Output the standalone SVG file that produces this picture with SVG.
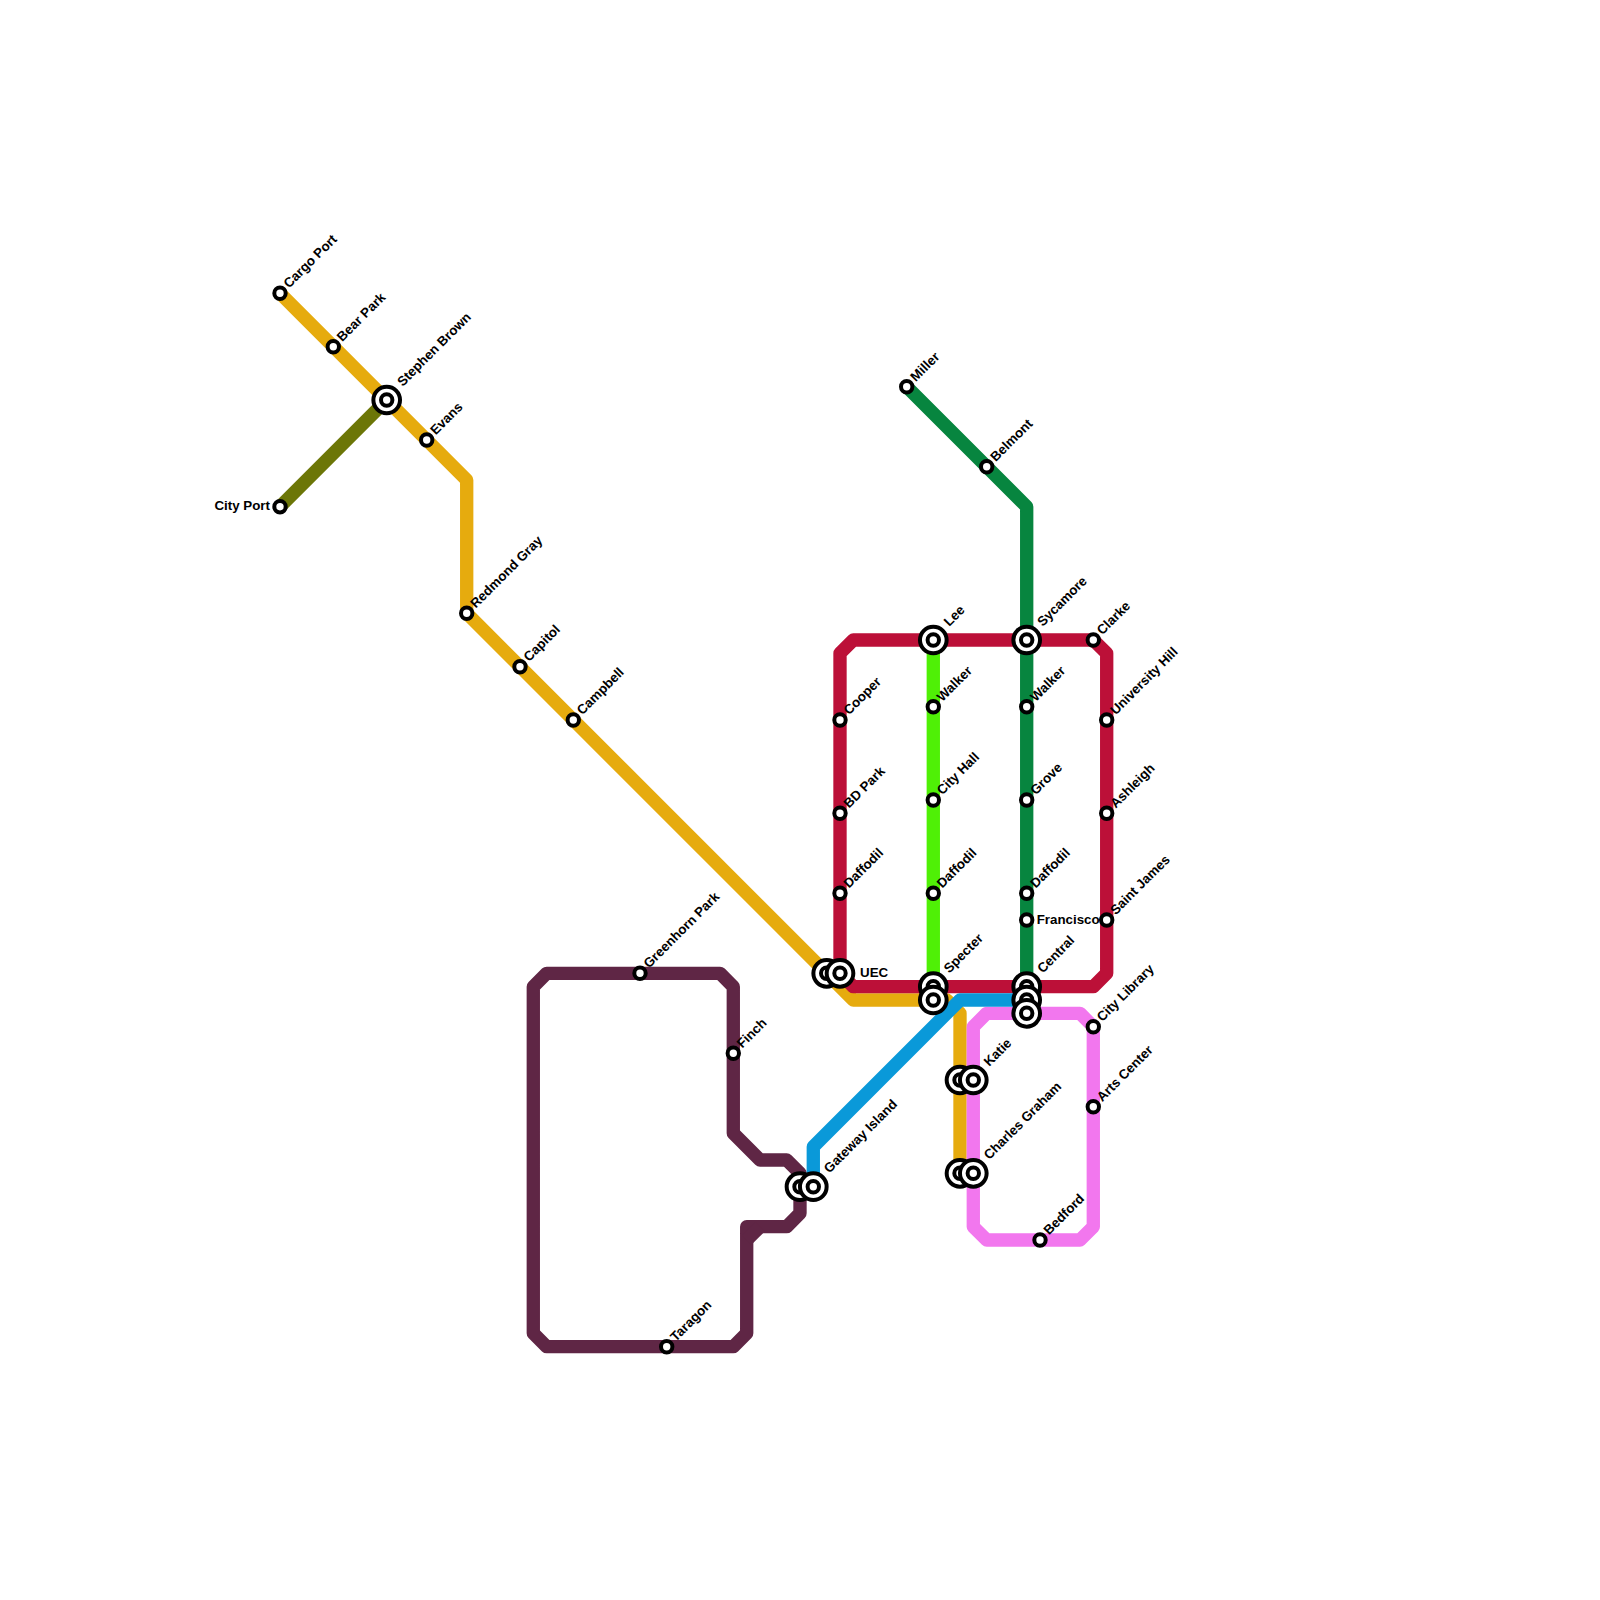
<svg xmlns="http://www.w3.org/2000/svg" width="1600" height="1600" viewBox="0 0 1600 1600">
<style>
.l{fill:none;stroke-width:13.33;stroke-linejoin:round;stroke-linecap:butt}
.s{fill:#fff;stroke:#000;stroke-width:4}
.t{font-family:"Liberation Sans",Arial,sans-serif;font-weight:700;font-size:13.33px;fill:#000}
</style>
<defs>
<g id="sm"><circle class="s" r="5.7"/></g>
<g id="lg"><circle class="s" r="13.33"/><circle class="s" r="5.7"/></g>
</defs>
<rect width="1600" height="1600" fill="#fff"/>
<g id="connectors">
<path class="l" stroke="#6c7607" d="M280 506.7L386.7 400"/>
<path class="l" stroke="#e6ab0e" d="M280 293.3L466.7 480V613.3L853.3 1000H946.7L960 1013.3V1173.3"/>
<path class="l" stroke="#5f2645" d="M533.3 986.7L546.7 973.3H720L733.3 986.7V1133.3L760 1160H786.7L800 1173.3V1213.3L786.7 1226.7H746.7V1333.3L733.3 1346.7H546.7L533.3 1333.3Z"/>
<path class="l" stroke="#5f2645" d="M760 1226.7L746.7 1240"/>
<path class="l" stroke="#07853f" d="M906.7 386.7L1026.7 506.7V986.7"/>
<path class="l" stroke="#4ff006" d="M933.3 640V986.7"/>
<path class="l" stroke="#f277ee" d="M973.3 1026.7L986.7 1013.3H1080L1093.3 1026.7V1226.7L1080 1240H986.7L973.3 1226.7Z"/>
<path class="l" stroke="#bc1038" d="M840 973.3V653.3L853.3 640H1093.3L1106.7 653.3V973.3L1093.3 986.7H853.3Z"/>
<path class="l" stroke="#0a99d9" d="M813.3 1186.7V1146.7L960 1000H1026.7"/>
</g>
<g id="n-cargo-port" transform="translate(280 293.3)"><use href="#sm"/><text class="t" transform="translate(9 -4.5) rotate(-45)">Cargo Port</text></g>
<g id="n-bear-park" transform="translate(333.3 346.7)"><use href="#sm"/><text class="t" transform="translate(9 -4.5) rotate(-45)">Bear Park</text></g>
<g id="n-stephen-brown" transform="translate(386.7 400)"><use href="#lg"/><text class="t" transform="translate(16 -13) rotate(-45)">Stephen Brown</text></g>
<g id="n-evans" transform="translate(426.7 440)"><use href="#sm"/><text class="t" transform="translate(9 -4.5) rotate(-45)">Evans</text></g>
<g id="n-city-port" transform="translate(280 506.7)"><use href="#sm"/><text class="t" text-anchor="end" x="-10" y="3.5">City Port</text></g>
<g id="n-redmond-gray" transform="translate(466.7 613.3)"><use href="#sm"/><text class="t" transform="translate(9 -4.5) rotate(-45)">Redmond Gray</text></g>
<g id="n-capitol" transform="translate(520 666.7)"><use href="#sm"/><text class="t" transform="translate(9 -4.5) rotate(-45)">Capitol</text></g>
<g id="n-campbell" transform="translate(573.3 720)"><use href="#sm"/><text class="t" transform="translate(9 -4.5) rotate(-45)">Campbell</text></g>
<g id="n-greenhorn-park" transform="translate(640 973.3)"><use href="#sm"/><text class="t" transform="translate(9 -4.5) rotate(-45)">Greenhorn Park</text></g>
<g id="n-finch" transform="translate(733.3 1053.3)"><use href="#sm"/><text class="t" transform="translate(9 -4.5) rotate(-45)">Finch</text></g>
<g id="n-taragon" transform="translate(666.7 1346.7)"><use href="#sm"/><text class="t" transform="translate(9 -4.5) rotate(-45)">Taragon</text></g>
<g id="n-gateway-a" transform="translate(800 1186.7)"><use href="#lg"/></g>
<g id="n-gateway-island" transform="translate(813.3 1186.7)"><use href="#lg"/><text class="t" transform="translate(16 -13) rotate(-45)">Gateway Island</text></g>
<g id="n-uec-a" transform="translate(826.7 973.3)"><use href="#lg"/></g>
<g id="n-uec" transform="translate(840 973.3)"><use href="#lg"/><text class="t" x="20" y="3.5">UEC</text></g>
<g id="n-cooper" transform="translate(840 720)"><use href="#sm"/><text class="t" transform="translate(9 -4.5) rotate(-45)">Cooper</text></g>
<g id="n-bd-park" transform="translate(840 813.3)"><use href="#sm"/><text class="t" transform="translate(9 -4.5) rotate(-45)">BD Park</text></g>
<g id="n-daffodil-1" transform="translate(840 893.3)"><use href="#sm"/><text class="t" transform="translate(9 -4.5) rotate(-45)">Daffodil</text></g>
<g id="n-miller" transform="translate(906.7 386.7)"><use href="#sm"/><text class="t" transform="translate(9 -4.5) rotate(-45)">Miller</text></g>
<g id="n-belmont" transform="translate(986.7 466.7)"><use href="#sm"/><text class="t" transform="translate(9 -4.5) rotate(-45)">Belmont</text></g>
<g id="n-lee" transform="translate(933.3 640)"><use href="#lg"/><text class="t" transform="translate(16 -13) rotate(-45)">Lee</text></g>
<g id="n-walker-1" transform="translate(933.3 706.7)"><use href="#sm"/><text class="t" transform="translate(9 -4.5) rotate(-45)">Walker</text></g>
<g id="n-city-hall" transform="translate(933.3 800)"><use href="#sm"/><text class="t" transform="translate(9 -4.5) rotate(-45)">City Hall</text></g>
<g id="n-daffodil-2" transform="translate(933.3 893.3)"><use href="#sm"/><text class="t" transform="translate(9 -4.5) rotate(-45)">Daffodil</text></g>
<g id="n-specter" transform="translate(933.3 986.7)"><use href="#lg"/><text class="t" transform="translate(16 -13) rotate(-45)">Specter</text></g>
<g id="n-specter-b" transform="translate(933.3 1000)"><use href="#lg"/></g>
<g id="n-sycamore" transform="translate(1026.7 640)"><use href="#lg"/><text class="t" transform="translate(16 -13) rotate(-45)">Sycamore</text></g>
<g id="n-walker-2" transform="translate(1026.7 706.7)"><use href="#sm"/><text class="t" transform="translate(9 -4.5) rotate(-45)">Walker</text></g>
<g id="n-grove" transform="translate(1026.7 800)"><use href="#sm"/><text class="t" transform="translate(9 -4.5) rotate(-45)">Grove</text></g>
<g id="n-daffodil-3" transform="translate(1026.7 893.3)"><use href="#sm"/><text class="t" transform="translate(9 -4.5) rotate(-45)">Daffodil</text></g>
<g id="n-francisco" transform="translate(1026.7 920)"><use href="#sm"/><text class="t" x="10" y="3.5">Francisco</text></g>
<g id="n-central" transform="translate(1026.7 986.7)"><use href="#lg"/><text class="t" transform="translate(16 -13) rotate(-45)">Central</text></g>
<g id="n-central-b" transform="translate(1026.7 1000)"><use href="#lg"/></g>
<g id="n-central-c" transform="translate(1026.7 1013.3)"><use href="#lg"/></g>
<g id="n-clarke" transform="translate(1093.3 640)"><use href="#sm"/><text class="t" transform="translate(9 -4.5) rotate(-45)">Clarke</text></g>
<g id="n-university-hill" transform="translate(1106.7 720)"><use href="#sm"/><text class="t" transform="translate(9 -4.5) rotate(-45)">University Hill</text></g>
<g id="n-ashleigh" transform="translate(1106.7 813.3)"><use href="#sm"/><text class="t" transform="translate(9 -4.5) rotate(-45)">Ashleigh</text></g>
<g id="n-saint-james" transform="translate(1106.7 920)"><use href="#sm"/><text class="t" transform="translate(9 -4.5) rotate(-45)">Saint James</text></g>
<g id="n-katie-a" transform="translate(960 1080)"><use href="#lg"/></g>
<g id="n-katie" transform="translate(973.3 1080)"><use href="#lg"/><text class="t" transform="translate(16 -13) rotate(-45)">Katie</text></g>
<g id="n-charles-a" transform="translate(960 1173.3)"><use href="#lg"/></g>
<g id="n-charles-graham" transform="translate(973.3 1173.3)"><use href="#lg"/><text class="t" transform="translate(16 -13) rotate(-45)">Charles Graham</text></g>
<g id="n-city-library" transform="translate(1093.3 1026.7)"><use href="#sm"/><text class="t" transform="translate(9 -4.5) rotate(-45)">City Library</text></g>
<g id="n-arts-center" transform="translate(1093.3 1106.7)"><use href="#sm"/><text class="t" transform="translate(9 -4.5) rotate(-45)">Arts Center</text></g>
<g id="n-bedford" transform="translate(1040 1240)"><use href="#sm"/><text class="t" transform="translate(9 -4.5) rotate(-45)">Bedford</text></g>
</svg>
